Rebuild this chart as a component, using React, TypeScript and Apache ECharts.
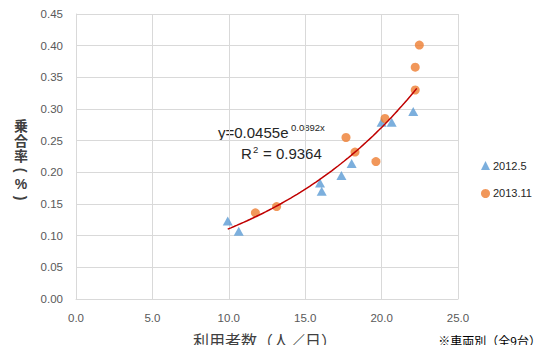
import React, { useEffect, useRef } from "react";
import * as echarts from "echarts";

const seriesNames = ["2012.5", "2013.11"];
const blueX = [9.93, 10.65, 15.97, 16.08, 17.37, 18.04, 20.0, 20.66, 22.07];
const blueY = [0.123, 0.107, 0.183, 0.170, 0.195, 0.214, 0.279, 0.279, 0.296];
const orangeX = [11.74, 13.13, 17.67, 18.26, 19.63, 20.22, 22.2, 22.2, 22.47];
const orangeY = [0.136, 0.146, 0.255, 0.232, 0.217, 0.285, 0.330, 0.366, 0.401];
const trendA = 0.0455;
const trendB = 0.0892;
const r2 = 0.9364;
const trendXEnd = 22.3;
const xTicks = [0, 5, 10, 15, 20, 25];
const yTicks = [0, 0.05, 0.1, 0.15, 0.2, 0.25, 0.3, 0.35, 0.4, 0.45];
const yTitleChars = ["乗", "合", "率"];
const xTitle = "利用者数（人／日）";
const note = "※車両別（全9台）";

const LATIN = "'Liberation Sans', 'Noto Sans CJK JP', sans-serif";
const CJK = "'Noto Sans CJK JP', sans-serif";

export default function App() {
  const ref = useRef<HTMLDivElement>(null);
  useEffect(() => {
    if (!ref.current) return;
    const chart = echarts.init(ref.current, undefined, { renderer: "svg" });
    const allX = blueX.concat(orangeX);
    const x0 = Math.min(...allX);
    const trend: number[][] = [];
    const steps = 60;
    for (let i = 0; i <= steps; i++) {
      const x = x0 + ((trendXEnd - x0) * i) / steps;
      trend.push([x, trendA * Math.exp(trendB * x)]);
    }
    const eqColor = "#262626";
    const titleColor = "#404040";
    const yTitle: any[] = yTitleChars.map((c, i) => ({
      type: "text",
      x: 21,
      y: 125 + i * 15,
      style: {
        text: c,
        font: `bold 14px ${CJK}`,
        fill: titleColor,
        align: "center",
        verticalAlign: "middle",
      },
    }));
    yTitle.push(
      {
        type: "text",
        x: 21,
        y: 170,
        rotation: -Math.PI / 2,
        style: { text: "(", font: `bold 14px ${LATIN}`, fill: titleColor, align: "center", verticalAlign: "middle" },
      },
      {
        type: "text",
        x: 21,
        y: 184,
        style: { text: "%", font: `bold 14px ${LATIN}`, fill: titleColor, align: "center", verticalAlign: "middle" },
      },
      {
        type: "text",
        x: 21,
        y: 198,
        rotation: -Math.PI / 2,
        style: { text: ")", font: `bold 14px ${LATIN}`, fill: titleColor, align: "center", verticalAlign: "middle" },
      }
    );
    chart.setOption({
      animation: false,
      backgroundColor: "#ffffff",
      textStyle: { fontFamily: LATIN },
      grid: { left: 76, right: 87, top: 14, bottom: 54 },
      legend: {
        orient: "vertical",
        left: 476,
        top: 155,
        itemWidth: 9,
        itemHeight: 9,
        itemGap: 17,
        data: [
          { name: seriesNames[0], icon: "triangle" },
          { name: seriesNames[1], icon: "circle" },
        ],
        textStyle: { fontSize: 11, color: "#262626", fontFamily: LATIN, padding: [0, 0, 0, -2] },
      },
      xAxis: {
        type: "value",
        min: xTicks[0],
        max: xTicks[xTicks.length - 1],
        interval: 5,
        axisLine: { show: true, lineStyle: { color: "#D9D9D9" } },
        axisTick: { show: false },
        splitLine: { lineStyle: { color: "#D9D9D9" } },
        axisLabel: {
          margin: 13,
          fontSize: 11.5,
          color: "#595959",
          formatter: (v: number) => v.toFixed(1),
        },
      },
      yAxis: {
        type: "value",
        min: yTicks[0],
        max: yTicks[yTicks.length - 1],
        interval: 0.05,
        axisLine: { show: true, lineStyle: { color: "#D9D9D9" } },
        axisTick: { show: false },
        splitLine: { lineStyle: { color: "#D9D9D9" } },
        axisLabel: {
          margin: 13,
          fontSize: 11.5,
          color: "#595959",
          formatter: (v: number) => v.toFixed(2),
        },
      },
      series: [
        {
          name: seriesNames[0],
          type: "scatter",
          symbol: "triangle",
          symbolSize: [10, 9],
          itemStyle: { color: "#5B9BD5" },
          data: blueX.map((x, i) => [x, blueY[i]]),
          z: 3,
        },
        {
          name: seriesNames[1],
          type: "scatter",
          symbol: "circle",
          symbolSize: 9,
          itemStyle: { color: "#ED7D31" },
          data: orangeX.map((x, i) => [x, orangeY[i]]),
          z: 3,
        },
        {
          name: "trend",
          type: "line",
          showSymbol: false,
          symbol: "none",
          smooth: false,
          lineStyle: { color: "#C00000", width: 1.5 },
          data: trend,
          z: 4,
        },
      ],
      graphic: [
        ...yTitle,
        {
          type: "text",
          x: 265,
          y: 340,
          style: {
            text: xTitle,
            font: `16px ${CJK}`,
            fill: titleColor,
            align: "center",
            verticalAlign: "middle",
          },
        },
        {
          type: "text",
          x: 541,
          y: 340,
          style: {
            text: note,
            font: `12px ${CJK}`,
            fill: "#000000",
            align: "right",
            verticalAlign: "middle",
          },
        },
        {
          type: "text",
          x: 218,
          y: 132,
          style: { text: `y=${trendA}e`, font: `15px ${LATIN}`, fill: eqColor, verticalAlign: "middle" },
        },
        {
          type: "text",
          x: 291,
          y: 127,
          style: { text: `${trendB}x`, font: `9.5px ${LATIN}`, fill: eqColor, verticalAlign: "middle" },
        },
        {
          type: "text",
          x: 241,
          y: 153,
          style: { text: "R", font: `15px ${LATIN}`, fill: eqColor, verticalAlign: "middle" },
        },
        {
          type: "text",
          x: 253,
          y: 149,
          style: { text: "2", font: `9.5px ${LATIN}`, fill: eqColor, verticalAlign: "middle" },
        },
        {
          type: "text",
          x: 263,
          y: 153,
          style: { text: `= ${r2}`, font: `15px ${LATIN}`, fill: eqColor, verticalAlign: "middle" },
        },
      ],
    });
    return () => chart.dispose();
  }, []);
  return <div ref={ref} style={{ width: 545, height: 353, margin: -8 }} />;
}
